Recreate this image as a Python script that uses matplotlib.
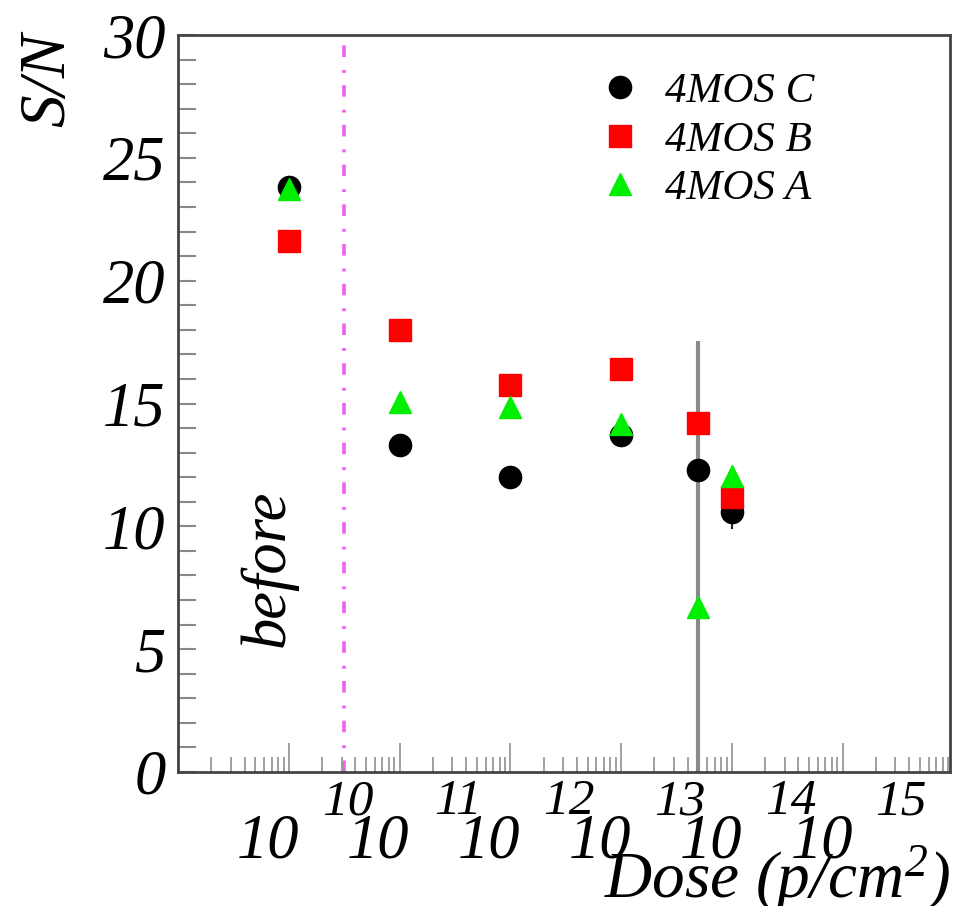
import numpy as np
import matplotlib
matplotlib.use('Agg')
import matplotlib.pyplot as plt

plt.rcParams['font.family'] = ['Liberation Serif', 'DejaVu Serif']
plt.rcParams['font.style'] = 'italic'
plt.rcParams['mathtext.fontset'] = 'custom'
plt.rcParams['mathtext.rm'] = 'Liberation Serif:italic'
plt.rcParams['mathtext.it'] = 'Liberation Serif:italic'

# dose points (p/cm^2), first one is "before" irradiation
dose = [1e10, 1e11, 1e12, 1e13, 5e13, 1e14]
sn_c = [23.8, 13.3, 12.0, 13.7, 12.3, 10.6]
sn_b = [21.6, 18.0, 15.75, 16.4, 14.2, 11.2]
sn_a = [23.75, 15.05, 14.85, 14.15, 6.7, 12.05]
err_c = [0, 0, 0, 0, 0, 0.7]
err_a = [0, 0, 0, 0, 10.85, 0]
decades = [10, 11, 12, 13, 14, 15]

fig = plt.figure(figsize=(9.63, 9.06), dpi=100)
ax = fig.add_axes([178/963, 1 - 772/906, 772/963, 737/906])

# error bars first (gray long one for A, small black one for C)
ax.errorbar(dose, sn_a, yerr=err_a, fmt='none', ecolor='#8a8a8a', elinewidth=3, capsize=0, zorder=2)
ax.errorbar(dose, sn_c, yerr=err_c, fmt='none', ecolor='#222222', elinewidth=1.5, capsize=0, zorder=2)

ax.plot(dose, sn_c, 'o', color='black', markersize=16, linestyle='none', label='4MOS C', zorder=3)
ax.plot(dose, sn_b, 's', color='#ff0000', markersize=16.5, linestyle='none', label='4MOS B', zorder=4)
ax.plot(dose, sn_a, '^', color='#00ee00', markersize=16, linestyle='none', label='4MOS A', zorder=5)

# "before" boundary
ax.axvline(10**10.5, color='#f060f0', linewidth=2.6, linestyle=(0, (3.2, 3.4, 0.8, 3.6)), zorder=1)

ax.set_xscale('log')
ax.set_xlim(1e9, 10**15.97)
ax.set_ylim(0, 30)

ax.set_xticks([10.0**k for k in range(9, 16)])
ax.xaxis.set_minor_locator(matplotlib.ticker.LogLocator(base=10, subs=np.arange(2, 10)))
ax.xaxis.set_minor_formatter(matplotlib.ticker.NullFormatter())
ax.set_xticklabels([])
ax.set_yticks(range(0, 31, 5))
ax.yaxis.set_minor_locator(matplotlib.ticker.MultipleLocator(1))

ax.tick_params(axis='x', which='major', direction='in', length=21, width=1.3, color='#999999')
ax.tick_params(axis='x', which='minor', direction='in', length=11, width=1.3, color='#999999')
ax.tick_params(axis='y', which='both', direction='in', length=13, width=1.5, color='#888888',
               labelsize=45, pad=9)

for sp in ax.spines.values():
    sp.set_color('#444444')
    sp.set_linewidth(2)

# ROOT-style log labels: "10" with exponent shifted up and right
trans = ax.get_xaxis_transform()
for k in decades:
    ax.text(10**(k - 0.19), -0.095, '10', transform=trans, ha='center', va='center',
            fontsize=45, clip_on=False)
    ax.text(10**(k + 0.53), -0.041, str(k), transform=trans, ha='center', va='center',
            fontsize=37, clip_on=False)

ax.legend(loc='upper left', bbox_to_anchor=(0.545, 0.95), frameon=False,
          fontsize=31, handlelength=1.0, handletextpad=0.55, labelspacing=0.22,
          borderpad=0, borderaxespad=0)

fig.text(268/963, 1 - 568/906, 'before', rotation=90, ha='center', va='center', fontsize=45)
fig.text(48/963, 1 - 33/906, 'S/N', rotation=90, ha='center', va='top', fontsize=47)
fig.text(950/963, 1 - 897/906, 'Dose (p/cm$^{2}$)', ha='right', va='baseline', fontsize=47)

fig.savefig('out.png', dpi=100)
